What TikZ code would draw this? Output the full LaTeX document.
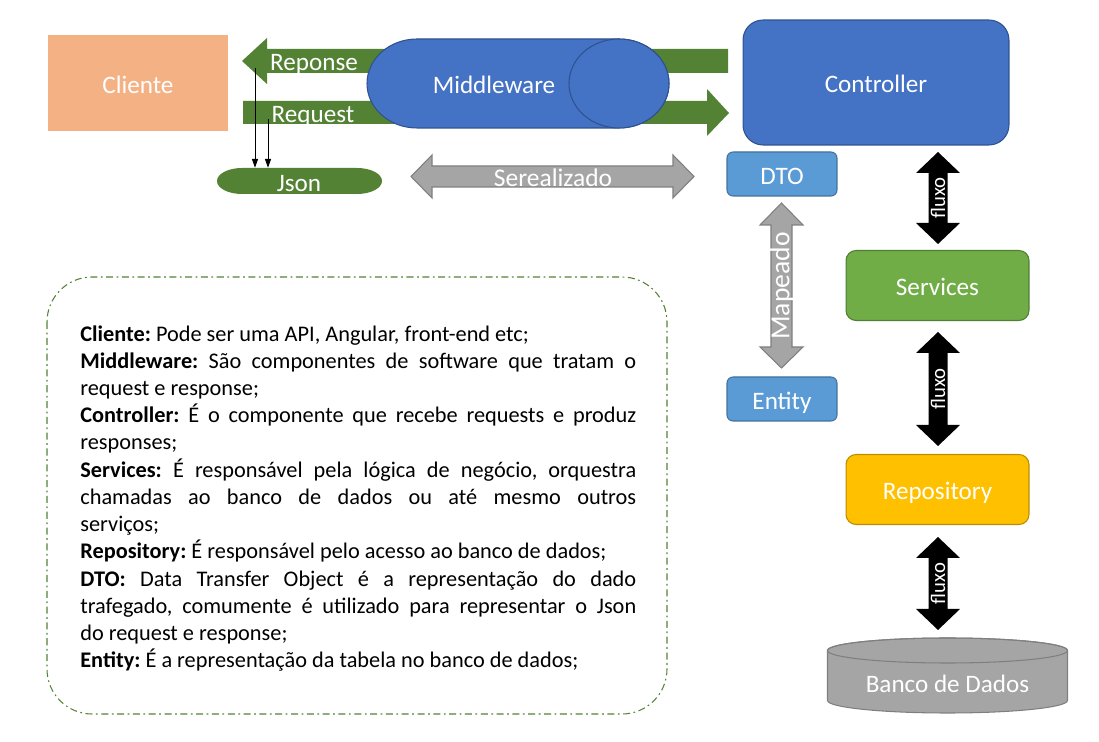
\documentclass[tikz,border=0pt]{standalone}
\usepackage{fontspec}
\setmainfont{Carlito}
\usetikzlibrary{arrows.meta}

\definecolor{clientorange}{HTML}{F4B183}
\definecolor{arrowgreen}{HTML}{548235}
\definecolor{mwblue}{HTML}{4472C4}
\definecolor{mwborder}{HTML}{2F528F}
\definecolor{dtoblue}{HTML}{5B9BD5}
\definecolor{dtoborder}{HTML}{41719C}
\definecolor{svcgreen}{HTML}{70AD47}
\definecolor{svcborder}{HTML}{507E32}
\definecolor{repoyellow}{HTML}{FFC000}
\definecolor{repoborder}{HTML}{BC8C00}
\definecolor{mapgray}{HTML}{A5A5A5}
\definecolor{mapborder}{HTML}{7F7F7F}

\begin{document}
\begin{tikzpicture}[x=0.02cm, y=-0.02cm,
    lbl/.style={text=white, font=\fontsize{14.3}{16}\selectfont, text height=11.7pt, text depth=0pt},
    box/.style={lbl, inner sep=0pt, line width=0.6pt},
    dtobox/.style={box, fill=dtoblue, draw=dtoborder, rounded corners=0.12cm, minimum width=2.2cm, minimum height=0.88cm},
    layerbox/.style={box, rounded corners=0.2cm, minimum width=3.66cm, minimum height=1.4cm},
    fluxolbl/.style={text=white, font=\fontsize{11.8}{13}\selectfont, rotate=90, inner sep=0pt},
    tap/.style={-{Triangle[length=5pt,width=3.5pt]}, thin}]

\useasboundingbox (0,0) rectangle (1099,742);

% client
\node[box, fill=clientorange, minimum width=3.6cm, minimum height=1.92cm] (cliente) at (138,83) {Cliente};

% green request/response arrows, behind the middleware
\fill[arrowgreen] (728,49)--(267,49)--(267,38)--(242,61)--(267,84)--(267,73)--(728,73)--cycle;
\fill[arrowgreen] (243,101)--(707,101)--(707,89)--(729,113)--(707,136)--(707,124)--(243,124)--cycle;
\node[lbl] (reponse) at (314,60) {Reponse};
\node[lbl] (request) at (313,112) {Request};

% middleware pipe
\draw[fill=mwblue, draw=mwborder, line width=0.6pt] (417,39)--(619,39)
    arc[start angle=-90, end angle=90, x radius=50, y radius=44.5] -- (417,128)
    arc[start angle=90, end angle=270, x radius=50, y radius=44.5] -- cycle;
\draw[fill=mwblue, draw=mwborder, line width=0.6pt] (619,83.5) ellipse [x radius=50, y radius=44.5];
\node[lbl] (middleware) at (494,83) {Middleware};

% controller
\node[box, fill=mwblue, draw=mwborder, rounded corners=0.4cm, minimum width=5.32cm, minimum height=2.5cm] (controller) at (876,82.5) {Controller};

% json pill
\fill[arrowgreen] (242,168)--(357,168) arc[start angle=-90, end angle=90, x radius=25, y radius=13]
    -- (242,194) arc[start angle=90, end angle=270, x radius=25, y radius=13] -- cycle;
\node[lbl, minimum width=3.3cm, minimum height=0.52cm, inner sep=0pt] (json) at (299,181) {Json};

\coordinate (resp tap) at (255,68);
\coordinate (req tap) at (268,119);
\draw[tap] (resp tap) -- (resp tap |- json.north);
\draw[tap] (req tap) -- (req tap |- json.north);

% serialization
\draw[fill=mapgray, draw=mapborder, line width=0.6pt] (411,176.5)--(432,155)--(432,166)--(673,166)--(673,155)
    --(694,176.5)--(673,198)--(673,187)--(432,187)--(432,198)--cycle;
\node[text=white, font=\fontsize{14.5}{16}\selectfont] (serealizado) at (553,178) {Serealizado};

% dto and entity
\node[dtobox] (dto) at (782,174) {DTO};
\node[dtobox] (entity) at (782,399) {Entity};

\draw[fill=mapgray, draw=mapborder, line width=0.6pt] (781.5,203)--(803,225)--(792,225)--(792,347)--(803,347)
    --(781.5,368)--(760,347)--(771,347)--(771,225)--(760,225)--cycle;
\node[text=white, font=\fontsize{15.7}{17}\selectfont, rotate=90, inner sep=0pt] (mapeado) at (782,286) {Mapeado};

% layers
\node[layerbox, fill=svcgreen, draw=svcborder] (services) at (937.5,285.5) {Services};
\node[layerbox, fill=repoyellow, draw=repoborder] (repository) at (937.5,489.5) {Repository};

% database
\draw[fill=mapgray, draw=mapborder, line width=0.6pt] (827.5,650.5) -- (827.5,700.5)
    arc[start angle=180, end angle=0, x radius=120, y radius=12.5] -- (1067.5,650.5)
    arc[start angle=0, end angle=-180, x radius=120, y radius=12.5] -- cycle;
\draw[draw=mapborder, line width=0.6pt] (947.5,650.5) ellipse [x radius=120, y radius=12.5];
\node[lbl] (db) at (947.5,682) {Banco de Dados};

% fluxo arrows between the layers
\foreach \t/\b [count=\i] in {152/244, 332/446, 537/630} {
    \fill[black] (938,\t)--(960,{\t+21})--(947.5,{\t+21})--(947.5,{\b-21})--(960,{\b-21})--(938,\b)
        --(916,{\b-21})--(928.5,{\b-21})--(928.5,{\t+21})--(916,{\t+21})--cycle;
    \node[fluxolbl] (fluxo\i) at (938,{(\t+\b)/2}) {fluxo};
}

% legend
\draw[arrowgreen, line width=0.6pt, dash pattern=on 4pt off 2pt on 1pt off 2pt, rounded corners=0.9cm] (47,277) rectangle (667,714);
\node[anchor=north west, inner sep=0pt, text width=11.12cm, align=justify,
      font=\fontsize{12.7}{15.5}\selectfont\frenchspacing] (legend) at (80,325) {%
\textbf{Cliente:} Pode ser uma API, Angular, front-end etc;\par
\textbf{Middleware:} São componentes de software que tratam o\linebreak request e response;\par
\textbf{Controller:} É o componente que recebe requests e produz\linebreak responses;\par
\textbf{Services:} É responsável pela lógica de negócio, orquestra\linebreak chamadas ao banco de dados ou até mesmo outros\linebreak serviços;\par
\textbf{Repository:} É responsável pelo acesso ao banco de dados;\par
\textbf{DTO:} Data Transfer Object é a representação do dado\linebreak trafegado, comumente é utilizado para representar o Json\linebreak do request e response;\par
\textbf{Entity:} É a representação da tabela no banco de dados;};

\end{tikzpicture}
\end{document}
